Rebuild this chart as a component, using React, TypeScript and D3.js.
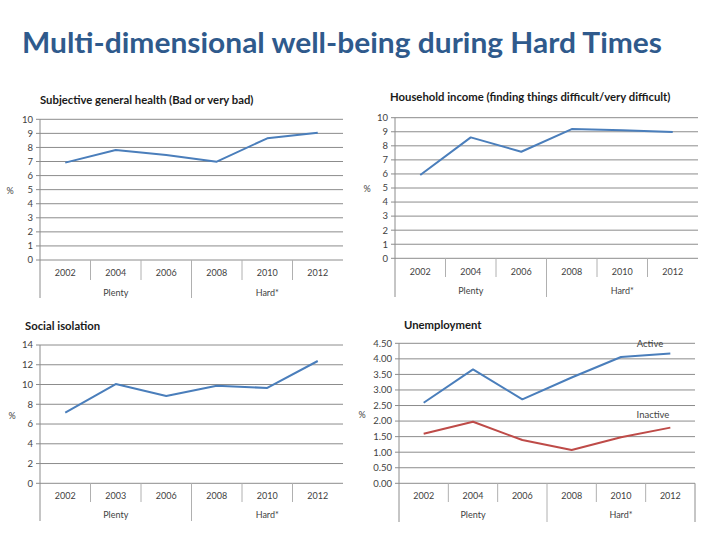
import React from "react";
import * as d3 from "d3";

const mainTitle = "Multi-dimensional well-being during Hard Times";

const healthYears = ["2002", "2004", "2006", "2008", "2010", "2012"];
const healthValues = [6.92, 7.82, 7.46, 6.99, 8.65, 9.05];
const healthTicks = [0, 1, 2, 3, 4, 5, 6, 7, 8, 9, 10];

const incomeYears = ["2002", "2004", "2006", "2008", "2010", "2012"];
const incomeValues = [5.92, 8.6, 7.58, 9.19, 9.1, 8.98];
const incomeTicks = [0, 1, 2, 3, 4, 5, 6, 7, 8, 9, 10];

const isolationYears = ["2002", "2003", "2006", "2008", "2010", "2012"];
const isolationValues = [7.15, 10.05, 8.84, 9.88, 9.65, 12.38];
const isolationTicks = [0, 2, 4, 6, 8, 10, 12, 14];

const unempYears = ["2002", "2004", "2006", "2008", "2010", "2012"];
const activeValues = [2.59, 3.66, 2.7, 3.4, 4.06, 4.17];
const inactiveValues = [1.59, 1.98, 1.39, 1.07, 1.48, 1.79];
const unempTicks = [0, 0.5, 1, 1.5, 2, 2.5, 3, 3.5, 4, 4.5];

const groupLabels = ["Plenty", "Hard*"];

const BLUE = "#4A7EBB";
const RED = "#BE4B48";
const GRID = "#8C8C8C";
const TXT = "#3F3F3F";

type Series = { values: number[]; color: string; label?: string; lx?: number; ly?: number };

type PanelProps = {
  title: string;
  tx: number;
  ty: number;
  x0: number;
  x1: number;
  yTop: number;
  yBot: number;
  yMax: number;
  ticks: number[];
  fmt: (v: number) => string;
  years: string[];
  series: Series[];
  yearY: number;
  groupY: number;
  shortBot: number;
  fullBot: number;
  px: number;
  py: number;
  rightLine?: boolean;
};

function Panel(p: PanelProps) {
  const x = d3.scaleBand<string>().domain(p.years).range([p.x0, p.x1]);
  const y = d3.scaleLinear().domain([0, p.yMax]).range([p.yBot, p.yTop]);
  const line = d3
    .line<number>()
    .x((_, i) => (x(p.years[i]) as number) + x.bandwidth() / 2)
    .y((v) => y(v));
  const bw = x.bandwidth();
  const mid = p.x0 + bw * 3;
  return (
    <g>
      <text x={p.tx} y={p.ty} fontFamily="Lato, 'Open Sans', sans-serif" fontWeight="bold" fontSize={11.3} fill="#1a1a1a">
        {p.title}
      </text>
      {p.ticks.map((t) => (
        <g key={t}>
          <line x1={p.x0 - 4} x2={p.x1} y1={y(t)} y2={y(t)} stroke={GRID} strokeWidth={1} />
          <text x={p.x0 - 7} y={y(t)} dy="0.35em" textAnchor="end" fontFamily="Lato, sans-serif" fontSize={9.5} fill={TXT}>
            {p.fmt(t)}
          </text>
        </g>
      ))}
      <line x1={p.x0} x2={p.x0} y1={p.yTop} y2={p.fullBot} stroke={GRID} />
      {p.rightLine && <line x1={p.x1} x2={p.x1} y1={p.yBot} y2={p.fullBot} stroke={GRID} />}
      {p.years.map((yr, i) =>
        i > 0 ? (
          <line
            key={"d" + yr}
            x1={x(yr) as number}
            x2={x(yr) as number}
            y1={p.yBot}
            y2={i === 3 ? p.fullBot : p.shortBot}
            stroke="#B0B0B0"
          />
        ) : null
      )}
      {p.years.map((yr) => (
        <text
          key={"t" + yr}
          x={(x(yr) as number) + bw / 2}
          y={p.yearY}
          textAnchor="middle"
          fontFamily="Lato, sans-serif"
          fontSize={9}
          fill={TXT}
        >
          {yr}
        </text>
      ))}
      <text x={p.x0 + bw * 1.5} y={p.groupY} textAnchor="middle" fontFamily="Lato, sans-serif" fontSize={9} fill={TXT}>
        {groupLabels[0]}
      </text>
      <text x={mid + bw * 1.5} y={p.groupY} textAnchor="middle" fontFamily="Lato, sans-serif" fontSize={9} fill={TXT}>
        {groupLabels[1]}
      </text>
      <text x={p.px} y={p.py} dy="0.35em" textAnchor="middle" fontFamily="Lato, sans-serif" fontSize={9} fill={TXT}>
        %
      </text>
      {p.series.map((s, i) => (
        <g key={i}>
          <path d={line(s.values) as string} fill="none" stroke={s.color} strokeWidth={2} strokeLinejoin="round" />
          {s.label && (
            <text x={s.lx} y={s.ly} dy="0.35em" textAnchor="middle" fontFamily="Lato, sans-serif" fontSize={9.5} fill={TXT}>
              {s.label}
            </text>
          )}
        </g>
      ))}
    </g>
  );
}

const intFmt = (v: number) => String(v);
const decFmt = (v: number) => d3.format(".2f")(v);

export default function App() {
  return (
    <svg width={720} height={540} style={{ position: "absolute", left: 0, top: 0, background: "#fff" }}>
      <rect width={720} height={540} fill="#fff" />
      <text
        x={22}
        y={53}
        fontFamily="Lato, 'Open Sans', sans-serif"
        fontWeight="bold"
        fontSize={28}
        fill="#2F5A8C"
        textLength={640}
        lengthAdjust="spacingAndGlyphs"
      >
        {mainTitle}
      </text>
      <Panel
        title="Subjective general health (Bad or very bad)"
        tx={40}
        ty={104}
        x0={40}
        x1={343}
        yTop={119.3}
        yBot={260}
        yMax={10}
        ticks={healthTicks}
        fmt={intFmt}
        years={healthYears}
        series={[{ values: healthValues, color: BLUE }]}
        yearY={276}
        groupY={296}
        shortBot={280}
        fullBot={298}
        px={10}
        py={191}
      />
      <Panel
        title="Household income (finding things difficult/very difficult)"
        tx={390}
        ty={101}
        x0={395}
        x1={698}
        yTop={117.7}
        yBot={258.3}
        yMax={10}
        ticks={incomeTicks}
        fmt={intFmt}
        years={incomeYears}
        series={[{ values: incomeValues, color: BLUE }]}
        yearY={275}
        groupY={294}
        shortBot={277}
        fullBot={297}
        px={367}
        py={189}
      />
      <Panel
        title="Social isolation"
        tx={25}
        ty={330}
        x0={40}
        x1={343}
        yTop={345}
        yBot={483.3}
        yMax={14}
        ticks={isolationTicks}
        fmt={intFmt}
        years={isolationYears}
        series={[{ values: isolationValues, color: BLUE }]}
        yearY={499}
        groupY={518}
        shortBot={502}
        fullBot={521}
        px={12}
        py={416}
      />
      <Panel
        title="Unemployment"
        tx={404}
        ty={329}
        x0={399}
        x1={695}
        yTop={343.3}
        yBot={483.3}
        yMax={4.5}
        ticks={unempTicks}
        fmt={decFmt}
        years={unempYears}
        series={[
          { values: activeValues, color: BLUE, label: "Active", lx: 650, ly: 344 },
          { values: inactiveValues, color: RED, label: "Inactive", lx: 653, ly: 415 },
        ]}
        yearY={499}
        groupY={518}
        shortBot={502}
        fullBot={522}
        px={362}
        py={415}
        rightLine
      />
    </svg>
  );
}
